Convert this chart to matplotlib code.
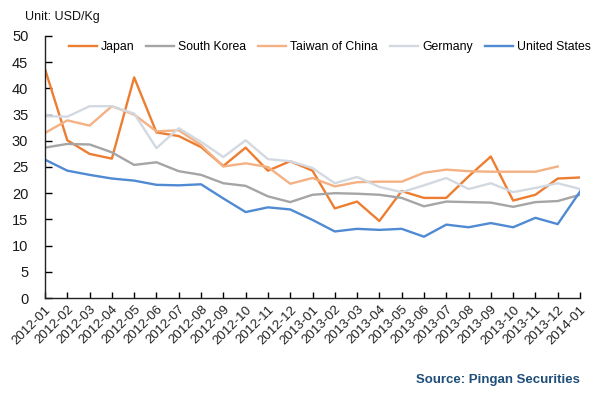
import matplotlib

matplotlib.use("Agg")

import matplotlib.pyplot as plt
import numpy as np

months = [
    "2012-01", "2012-02", "2012-03", "2012-04", "2012-05", "2012-06", "2012-07",
    "2012-08", "2012-09", "2012-10", "2012-11", "2012-12", "2013-01", "2013-02",
    "2013-03", "2013-04", "2013-05", "2013-06", "2013-07", "2013-08", "2013-09",
    "2013-10", "2013-11", "2013-12", "2014-01",
]
japan = [43.7, 30.1, 27.5, 26.6, 42.1, 31.6, 30.9, 28.8, 25.2, 28.7, 24.3, 26.1, 24.3,
         17.1, 18.4, 14.7, 20.4, 19.1, 19.1, 23.2, 27.0, 18.6, 19.7, 22.8, 23.0]
south_korea = [28.7, 29.4, 29.3, 27.8, 25.4, 25.9, 24.2, 23.5, 21.9, 21.4, 19.4, 18.3, 19.7,
               20.0, 19.9, 19.7, 19.1, 17.5, 18.4, 18.3, 18.2, 17.4, 18.3, 18.5, 19.7]
taiwan = [31.5, 33.9, 32.9, 36.6, 35.0, 31.8, 32.0, 29.2, 25.1, 25.7, 25.0, 21.8, 22.9,
          21.3, 22.1, 22.2, 22.2, 23.9, 24.5, 24.2, 24.1, 24.1, 24.1, 25.1, np.nan]
germany = [34.7, 34.6, 36.6, 36.6, 35.2, 28.6, 32.4, 29.8, 26.9, 30.1, 26.5, 26.1, 24.8,
           21.9, 23.1, 21.2, 20.2, 21.5, 22.9, 20.8, 21.9, 20.2, 21.0, 21.9, 20.8]
united_states = [26.4, 24.3, 23.5, 22.8, 22.4, 21.6, 21.5, 21.7, 19.0, 16.4, 17.3, 16.9, 14.9,
                 12.7, 13.2, 13.0, 13.2, 11.7, 14.0, 13.5, 14.3, 13.5, 15.3, 14.1, 20.3]

series = [
    ("Japan", japan, "#ed7d31"),
    ("South Korea", south_korea, "#a5a5a5"),
    ("Taiwan of China", taiwan, "#f4b183"),
    ("Germany", germany, "#d3d9e1"),
    ("United States", united_states, "#4f8ad2"),
]

plt.rcParams["font.family"] = ["Liberation Sans", "DejaVu Sans"]

fig = plt.figure(figsize=(6.06, 3.96), dpi=100)
ax = fig.add_axes([45 / 606, 1 - 298 / 396, 535 / 606, 262 / 396])

x = np.arange(len(months))
for name, values, color in series:
    ax.plot(x, values, color=color, lw=1.7, label=name)

ax.set_xlim(0, len(months) - 1)
ax.set_ylim(0, 50)
ax.set_yticks(np.arange(0, 51, 5))
ax.set_xticks(x)
ax.set_xticklabels(months, rotation=45, ha="right", va="top", rotation_mode="anchor",
                   fontsize=9.5, color="#222222")
ax.tick_params(axis="y", direction="in", length=5, width=1, labelsize=10.5,
               labelcolor="#1a1a1a", pad=12)
ax.tick_params(axis="x", direction="in", length=4, width=1, pad=4)

for side in ["top", "right"]:
    ax.spines[side].set_visible(False)
for side in ["left", "bottom"]:
    ax.spines[side].set_color("#222222")
    ax.spines[side].set_linewidth(1.0)

ax.legend(loc="upper left", bbox_to_anchor=(0.035, 1.0), ncol=5, frameon=False,
          fontsize=8.8, handlelength=2.3, handletextpad=0.3, columnspacing=1.0,
          borderaxespad=0)

fig.text(25 / 606, 1 - 17 / 396, "Unit: USD/Kg", fontsize=9, va="center", color="#111111")
fig.text(580 / 606, 1 - 380 / 396, "Source: Pingan Securities", fontsize=9.5,
         fontweight="bold", color="#1f4e79", ha="right", va="center")

fig.savefig("out.png", dpi=100)
plt.close(fig)
